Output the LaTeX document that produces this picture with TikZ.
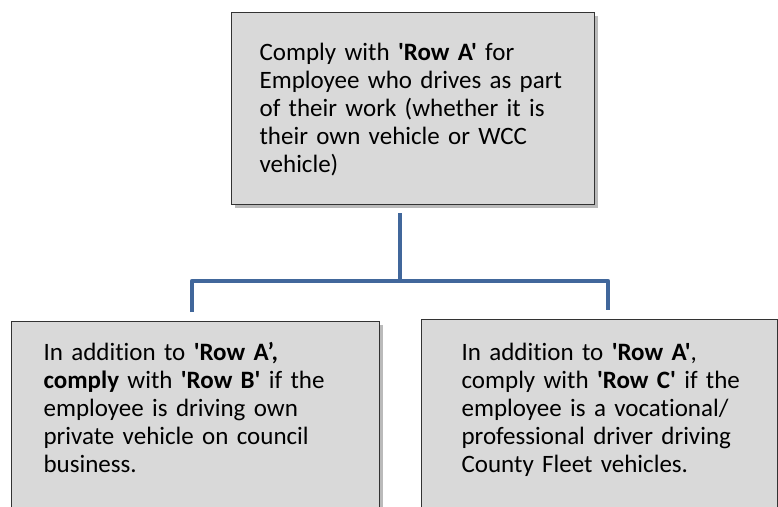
\documentclass[tikz,border=0pt]{standalone}
\usepackage{fontspec}
\setmainfont{Carlito}[Ligatures={TeXOff,NoCommon}]
\usepackage{xcolor}
\usetikzlibrary{positioning,shadows}
\definecolor{linkblue}{HTML}{41679B}
\definecolor{cardgrey}{HTML}{D9D9D9}
\tikzset{
	card/.style={rectangle, anchor=north west, draw=black!80, fill=cardgrey, line width=1.2pt, align=left, inner ysep=0pt, font=\fontsize{25}{28}\selectfont, drop shadow={shadow xshift=3pt, shadow yshift=-3pt, opacity=.45, fill=black!60}},
	link/.style={draw=linkblue, line width=4.5pt, line join=round}
}
\begin{document}
\begin{tikzpicture}[x=1pt, y=-1pt]
	\useasboundingbox (0,0) rectangle (778,506);
	\clip (0,0) rectangle (778,506);
	%Boxes
	\node[card, inner xsep=28pt, text width=307pt, text height=48pt, text depth=144pt] at (231,12) (rowA) {Comply with \textbf{'Row A'} for\\ Employee who drives as part\\ of their work (whether it is\\ their own vehicle or WCC\\ vehicle)};
	\node[card, inner xsep=32pt, text width=304pt, text height=39pt, text depth=200pt] at (11,321) (rowB) {In addition to \textbf{'Row A’,}\\ \textbf{comply} with \textbf{'Row B'} if the\\ employee is driving own\\ private vehicle on council\\ business.};
	\node[card, inner xsep=36pt, text width=284pt, text height=41pt, text depth=200pt] at (421,319) (rowC) {\hspace*{4pt}In addition to \textbf{'Row A'},\\ \hspace*{4pt}comply with \textbf{'Row C'} if the\\ \hspace*{4pt}employee is a vocational/\\ \hspace*{4pt}professional driver driving\\ \hspace*{4pt}County Fleet vehicles.};
	%Lines
	\coordinate (joint) at (400,281);
	\coordinate (dropL) at (192,281);
	\coordinate (dropR) at (608,281);
	\draw[link] ([yshift=-8pt]rowA.south -| joint) -- (joint);
	\draw[link] ([yshift=9pt]rowB.north -| dropL) -- (dropL) -- (dropR) -- ([yshift=9pt]rowC.north -| dropR);
\end{tikzpicture}
\end{document}
